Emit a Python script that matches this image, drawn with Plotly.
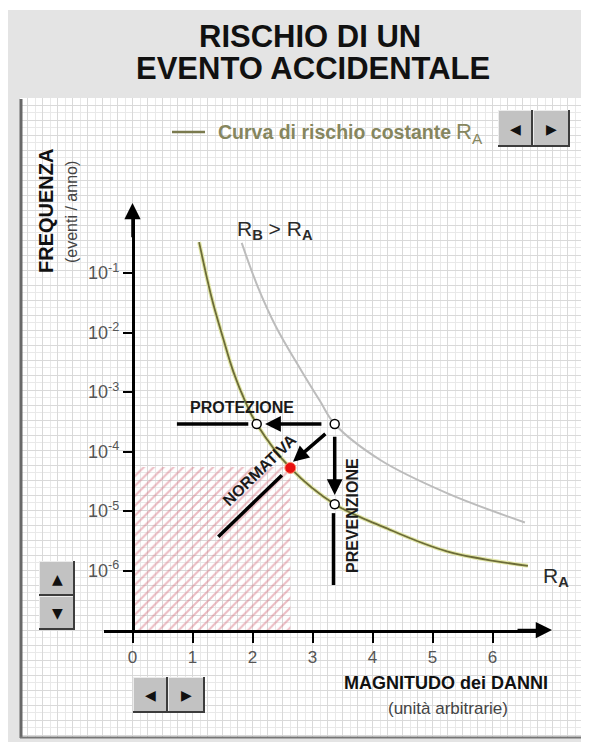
import numpy as np
import plotly.graph_objects as go

# page body has an 8px margin: figure placed at (8, 8) in the window
OX, OY = 8, 8
W, H = 581, 734

# ---------------- data ----------------
# constant-risk curve R_A : damage magnitude vs frequency (events/year)
ra_x = [1.11, 1.32, 1.51, 1.68, 1.88, 2.07, 2.63, 3.37, 4.18, 5.24, 6.59]
ra_f = [3.3e-1, 3.8e-2, 8.0e-3, 2.2e-3, 6.9e-4, 2.9e-4, 5.3e-5, 1.3e-5, 5.4e-6, 2.1e-6, 1.2e-6]
# higher-risk curve R_B > R_A
rb_x = [1.82, 2.09, 2.40, 2.79, 3.13, 3.37, 4.13, 5.24, 6.54]
rb_f = [3.2e-1, 5.8e-2, 1.2e-2, 2.5e-3, 6.9e-4, 2.9e-4, 7.2e-5, 2.0e-5, 6.4e-6]

# acceptable zone (hatched)
zone_x = [0.0, 2.63]
zone_f = [1e-7, 5.5e-5]

# points
circle_x = [3.37, 2.07, 3.37]
circle_f = [2.9e-4, 2.9e-4, 1.3e-5]
target_x = [2.63]
target_f = [5.3e-5]

# plain segments
prot_seg_x = [0.74, 1.93]
prot_seg_f = [2.9e-4, 2.9e-4]
prev_seg_x = [3.35, 3.35]
prev_seg_f = [9.2e-6, 5.7e-7]
norm_seg_x = [2.49, 1.43]
norm_seg_f = [4.0e-5, 3.7e-6]

# arrows: (tail_x, tail_f, tip_x, tip_f)
arrow_prot = [3.24, 2.9e-4, 2.21, 2.9e-4]
arrow_prev = [3.37, 2.2e-4, 3.37, 1.86e-5]
arrow_norm = [3.29, 2.3e-4, 2.675, 6.7e-5]

# axes
x_tick_vals = [0, 1, 2, 3, 4, 5, 6]
y_tick_vals = [1e-1, 1e-2, 1e-3, 1e-4, 1e-5, 1e-6]
y_tick_exp = ["-1", "-2", "-3", "-4", "-5", "-6"]
x_range = [-0.475, 6.875]
y_range_log = [-7.0, 0.0588]
x_arrow_tip = 6.992
y_arrow_tip_log = 0.176

# ---------------- helpers (window pixel -> paper) ----------------
def px(x):
    return (x - OX) / W

def py(y):
    return 1 - (y - OY) / H

FONT = "Liberation Sans, Arial, sans-serif"
RA_COL = "#6c6c38"
RA_GLOW = "#e2e6a8"
RB_COL = "#bcbcbc"

fig = go.Figure()

# dummy trace for background grid subplot
fig.add_trace(go.Scatter(x=[None], y=[None], xaxis="x", yaxis="y",
                         showlegend=False, hoverinfo="skip"))

dat = dict(xaxis="x2", yaxis="y2", showlegend=False, hoverinfo="skip")

# hatched zone
fig.add_trace(go.Scatter(
    x=[zone_x[0], zone_x[0], zone_x[1], zone_x[1], zone_x[0]],
    y=[zone_f[0], zone_f[1], zone_f[1], zone_f[0], zone_f[0]],
    mode="lines", line=dict(width=0, color="rgba(0,0,0,0)"),
    fill="toself", fillcolor="rgba(0,0,0,0)",
    fillpattern=dict(shape="/", fgcolor="#d87886", bgcolor="rgba(255,255,255,0)",
                     size=7, solidity=0.28),
    **dat))

# curves
fig.add_trace(go.Scatter(x=rb_x, y=rb_f, mode="lines",
                         line=dict(color=RB_COL, width=2, shape="spline", smoothing=1.0), **dat))
fig.add_trace(go.Scatter(x=ra_x, y=ra_f, mode="lines",
                         line=dict(color=RA_GLOW, width=4, shape="spline", smoothing=1.0), **dat))
fig.add_trace(go.Scatter(x=ra_x, y=ra_f, mode="lines",
                         line=dict(color=RA_COL, width=1.8, shape="spline", smoothing=1.0), **dat))

# black segments
for sx, sf in [(prot_seg_x, prot_seg_f), (prev_seg_x, prev_seg_f), (norm_seg_x, norm_seg_f)]:
    fig.add_trace(go.Scatter(x=sx, y=sf, mode="lines",
                             line=dict(color="black", width=3.5), **dat))

# arrows
annotations = []
for tx, tf, hx, hf in [arrow_prot, arrow_prev, arrow_norm]:
    annotations.append(dict(xref="x2", yref="y2", axref="x2", ayref="y2",
                            x=hx, y=np.log10(hf), ax=tx, ay=np.log10(tf),
                            text="", showarrow=True, arrowhead=2, arrowsize=0.9,
                            arrowwidth=3.5, arrowcolor="black", standoff=0, startstandoff=4))

# points
fig.add_trace(go.Scatter(x=circle_x, y=circle_f, mode="markers",
                         marker=dict(size=9, color="white", line=dict(color="black", width=1.5)), **dat))
fig.add_trace(go.Scatter(x=target_x, y=target_f, mode="markers",
                         marker=dict(size=11, color="#e81010", line=dict(color="#ff9070", width=1)), **dat))

# axis arrows
annotations.append(dict(xref="x2", yref="y2", axref="x2", ayref="y2",
                        x=0, y=y_arrow_tip_log, ax=0, ay=y_arrow_tip_log - 0.6,
                        text="", showarrow=True, arrowhead=2, arrowsize=1.3,
                        arrowwidth=2.5, arrowcolor="black", standoff=0))
annotations.append(dict(xref="x2", yref="y2", axref="x2", ayref="y2",
                        x=x_arrow_tip, y=y_range_log[0], ax=x_arrow_tip - 0.6, ay=y_range_log[0],
                        text="", showarrow=True, arrowhead=2, arrowsize=1.3,
                        arrowwidth=2.5, arrowcolor="black", standoff=0))

# ---------------- texts ----------------
def label(text, x, y, size, color="#111", bold=False, angle=0, xanchor="center", family=FONT):
    annotations.append(dict(xref="paper", yref="paper", x=px(x), y=py(y),
                            text=("<b>%s</b>" % text) if bold else text,
                            showarrow=False, xanchor=xanchor, yanchor="middle",
                            textangle=angle, font=dict(family=family, size=size, color=color)))

label("RISCHIO DI UN", 310, 37, 31, "#111", True)
label("EVENTO ACCIDENTALE", 313, 69, 31, "#111", True)

label("Curva di rischio costante", 216, 132, 19.5, "#86865e", True, xanchor="left")
label("R<sub>A</sub>", 454, 133, 22, "#86865e", False, xanchor="left")

label("R<sub><b>B</b></sub> > R<sub><b>A</b></sub>", 275, 230, 21, "#2a2a2a")
label("R<sub><b>A</b></sub>", 556, 577, 21, "#2a2a2a")

label("PROTEZIONE", 242, 407, 16, "#1a1a1a", True)
label("PREVENZIONE", 352, 516, 16, "#1a1a1a", True, angle=-90)
label("NORMATIVA", 259, 470, 16, "#1a1a1a", True, angle=-44)

label("FREQUENZA", 46, 211, 20, "#111", True, angle=-90)
label("(eventi / anno)", 71, 212, 16, "#444", False, angle=-90)
label("MAGNITUDO dei DANNI", 446, 683, 18, "#111", True)
label("(unità arbitrarie)", 448, 708, 17, "#444")

# ---------------- frame & buttons (decoration) ----------------
shapes = []
shapes.append(dict(type="rect", xref="paper", yref="paper", layer="below",
                   x0=0, x1=1, y0=0, y1=py(10),
                   fillcolor="#e4e4e4", line=dict(width=0)))
shapes.append(dict(type="rect", xref="paper", yref="paper", layer="below",
                   x0=px(20), x1=px(582), y0=py(738), y1=py(98),
                   fillcolor="white", line=dict(width=0)))
shapes.append(dict(type="line", xref="paper", yref="paper", layer="above",
                   x0=px(21), x1=px(21), y0=py(738), y1=py(99),
                   line=dict(color="#686868", width=3)))
shapes.append(dict(type="line", xref="paper", yref="paper", layer="above",
                   x0=px(20), x1=px(583), y0=py(737.5), y1=py(737.5),
                   line=dict(color="#777777", width=2)))

def button(x0, y0, x1, y1, glyph):
    shapes.append(dict(type="rect", xref="paper", yref="paper", layer="above",
                       x0=px(x0), x1=px(x1), y0=py(y1), y1=py(y0),
                       fillcolor="#c2c2c2", line=dict(width=0)))
    shapes.append(dict(type="line", xref="paper", yref="paper", layer="above",
                       x0=px(x0), x1=px(x1), y0=py(y0 + 0.5), y1=py(y0 + 0.5),
                       line=dict(color="#ececec", width=1)))
    shapes.append(dict(type="line", xref="paper", yref="paper", layer="above",
                       x0=px(x0 + 0.5), x1=px(x0 + 0.5), y0=py(y0), y1=py(y1),
                       line=dict(color="#ececec", width=1)))
    shapes.append(dict(type="line", xref="paper", yref="paper", layer="above",
                       x0=px(x0), x1=px(x1), y0=py(y1 - 1), y1=py(y1 - 1),
                       line=dict(color="#3c3c3c", width=2)))
    shapes.append(dict(type="line", xref="paper", yref="paper", layer="above",
                       x0=px(x1 - 1), x1=px(x1 - 1), y0=py(y0), y1=py(y1),
                       line=dict(color="#3c3c3c", width=2)))
    label(glyph, (x0 + x1) / 2, (y0 + y1) / 2, 14, "#111", family="DejaVu Sans")

button(498, 110, 533, 147, "◀")
button(533, 110, 570, 147, "▶")
button(133, 677, 168, 713, "◀")
button(168, 677, 205, 713, "▶")
button(39, 561, 75, 596, "▲")
button(39, 596, 75, 630, "▼")

# legend sample line
shapes.append(dict(type="line", xref="paper", yref="paper", layer="above",
                   x0=px(172), x1=px(205), y0=py(132), y1=py(132),
                   line=dict(color="#7a7a4e", width=2.5)))

fig.update_layout(
    width=W, height=H, autosize=False,
    margin=dict(l=0, r=0, t=0, b=0),
    paper_bgcolor="white", plot_bgcolor="rgba(0,0,0,0)",
    showlegend=False,
    xaxis=dict(domain=[px(20), px(582)], range=[20, 582], anchor="y",
               showgrid=True, dtick=15, tick0=132.5, gridcolor="#d9d9d9", gridwidth=1,
               minor=dict(dtick=7.5, tick0=132.5, showgrid=True, gridcolor="#e9e9e9", gridwidth=1),
               showticklabels=False, ticks="", zeroline=False, showline=False, fixedrange=True),
    yaxis=dict(domain=[py(738), py(98)], range=[738, 98], anchor="x",
               showgrid=True, dtick=15, tick0=630, gridcolor="#d9d9d9", gridwidth=1,
               minor=dict(dtick=7.5, tick0=630, showgrid=True, gridcolor="#e9e9e9", gridwidth=1),
               showticklabels=False, ticks="", zeroline=False, showline=False, fixedrange=True),
    xaxis2=dict(domain=[px(104), px(545)], range=x_range, anchor="y2",
                showgrid=False, zeroline=False, showline=True, linecolor="black", linewidth=2.5,
                ticks="outside", ticklen=10, tickwidth=2, tickcolor="black",
                tickvals=x_tick_vals, ticktext=[str(v) for v in x_tick_vals],
                tickfont=dict(family=FONT, size=17, color="#555"), fixedrange=True),
    yaxis2=dict(type="log", domain=[py(630), py(210)], range=y_range_log,
                anchor="free", position=px(132.5),
                showgrid=False, zeroline=False, showline=True, linecolor="black", linewidth=2.5,
                ticks="outside", ticklen=9, tickwidth=2, tickcolor="black",
                tickvals=y_tick_vals, ticktext=["10<sup>%s</sup>" % e for e in y_tick_exp],
                tickfont=dict(family=FONT, size=18, color="#555"), fixedrange=True),
    shapes=shapes,
    annotations=annotations,
)

fig.write_html("out.html")
